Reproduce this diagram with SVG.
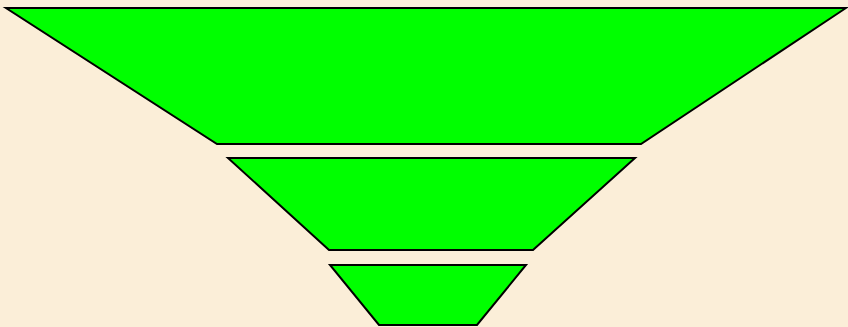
<svg xmlns="http://www.w3.org/2000/svg" width="848" height="327" viewBox="0 0 848 327">
<style>
.t{fill:#00ff00;stroke:#000;stroke-width:2;stroke-linejoin:miter}
</style>
<rect x="0" y="0" width="848" height="327" fill="#fbeed8"/>
<g id="level1"><polygon class="t" points="6,8 846,8 641,144 217,144"/></g>
<g id="level2"><polygon class="t" points="228,158 635,158 533,250 329,250"/></g>
<g id="level3"><polygon class="t" points="330,265 526,265 477,325 379,325"/></g>
</svg>
